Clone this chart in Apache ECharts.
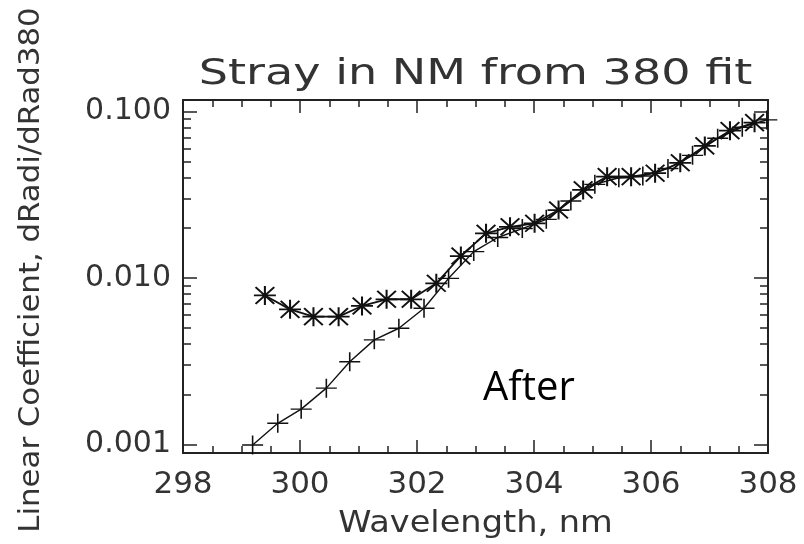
<!DOCTYPE html>
<html>
<head>
<meta charset="utf-8">
<script src="https://cdn.jsdelivr.net/npm/echarts@6/dist/echarts.min.js"></script>
<style>
  html, body { margin: 0; padding: 0; background: #fff; }
  #chart { width: 804px; height: 544px; }
</style>
</head>
<body>
<div id="chart"></div>
<script>
// Stray-light linear coefficient versus wavelength (log scale)
const starWavelength = [299.40, 299.83, 300.23, 300.66, 301.06, 301.48, 301.90, 302.33, 302.75, 303.18,
  303.59, 304.01, 304.42, 304.84, 305.25, 305.66, 306.07, 306.50, 306.92, 307.35, 307.77];
const starCoef = [0.00785, 0.00648, 0.00586, 0.00586, 0.00679, 0.00745, 0.00745, 0.00929, 0.01355, 0.01855,
  0.0203, 0.0213, 0.0256, 0.0338, 0.0406, 0.0406, 0.0426, 0.0492, 0.0621, 0.0767, 0.0857];

const plusWavelength = [299.19, 299.62, 300.02, 300.45, 300.85, 301.27, 301.69, 302.12, 302.54, 302.97,
  303.38, 303.80, 304.21, 304.63, 305.04, 305.45, 305.86, 306.29, 306.71, 307.14, 307.56, 307.98];
const plusCoef = [0.000993, 0.00134, 0.00163, 0.00218, 0.00314, 0.00425, 0.00499, 0.00658, 0.00995, 0.0144,
  0.0175, 0.0198, 0.0225, 0.0290, 0.0365, 0.0400, 0.0410, 0.0455, 0.0545, 0.0690, 0.0805, 0.0890];

const xMin = 298, xMax = 308, xStep = 2;
const yMin = 0.000889, yMax = 0.1172;
const yMajor = [0.001, 0.01, 0.1];
const yMinor = [0.002, 0.003, 0.004, 0.005, 0.006, 0.007, 0.008, 0.009,
  0.02, 0.03, 0.04, 0.05, 0.06, 0.07, 0.08, 0.09];

const titleText = 'Stray in NM from 380 fit';
const xName = 'Wavelength, nm';
const yName = 'Linear Coefficient, dRadi/dRad380';
const noteText = 'After';

const ink = '#222';
const textInk = '#333';
const axisFont = 'DejaVu Sans';

const pairs = (xs, ys) => xs.map((x, i) => [x, ys[i]]);
const lg = v => Math.log10(v);

// asterisk: vertical, horizontal and two diagonal strokes; plus: two strokes
const starPath = 'path://M10 0L10 18M0 9L20 9M1.5 1L18.5 17M18.5 1L1.5 17';
const plusPath = 'path://M10 0L10 18M0 9L20 9';

const chart = echarts.init(document.getElementById('chart'), null, { renderer: 'canvas' });

const frameLine = { show: true, lineStyle: { color: ink, width: 2 } };
const tickStyle = { color: ink, width: 1.5 };
const xAxisBase = {
  type: 'value', min: xMin, max: xMax, interval: xStep,
  axisLine: frameLine,
  axisTick: { show: true, inside: true, length: 13, lineStyle: tickStyle },
  minorTick: { show: true, splitNumber: 4, length: 7, lineStyle: tickStyle },
  splitLine: { show: false }
};

// log axis carries the data, labels and decade ticks; value axes in log10 units add the 2..9 ticks
const yLogAxis = (position, withLabels) => ({
  type: 'log', logBase: 10, min: yMin, max: yMax, position: position,
  axisLine: frameLine,
  axisTick: { show: true, inside: true, length: 14, customValues: yMajor, lineStyle: tickStyle },
  axisLabel: withLabels ? {
    show: true, margin: 12, customValues: yMajor,
    fontFamily: axisFont, fontSize: 30, color: textInk,
    formatter: v => Number(v).toFixed(3)
  } : { show: false },
  splitLine: { show: false }
});
const yMinorAxis = position => ({
  type: 'value', min: lg(yMin), max: lg(yMax), position: position,
  axisLine: { show: false },
  axisTick: { show: true, inside: true, length: 8, customValues: yMinor.map(lg), lineStyle: tickStyle },
  axisLabel: { show: false },
  splitLine: { show: false }
});

chart.setOption({
  animation: false,
  backgroundColor: '#fff',
  grid: { left: 183, top: 100, width: 585, height: 353, show: false },
  xAxis: [
    Object.assign({}, xAxisBase, {
      position: 'bottom',
      axisLabel: { show: true, margin: 16, fontFamily: axisFont, fontSize: 31, color: textInk }
    }),
    Object.assign({}, xAxisBase, { position: 'top', axisLabel: { show: false } })
  ],
  yAxis: [yLogAxis('left', true), yLogAxis('right', false), yMinorAxis('left'), yMinorAxis('right')],
  series: [
    {
      type: 'line', xAxisIndex: 0, yAxisIndex: 0,
      data: pairs(plusWavelength, plusCoef),
      symbol: plusPath, symbolSize: [21, 19], showAllSymbol: true,
      lineStyle: { color: '#111', width: 1.4 },
      itemStyle: { color: '#111', borderColor: '#111', borderWidth: 1.5 },
      emphasis: { disabled: true }
    },
    {
      type: 'line', xAxisIndex: 0, yAxisIndex: 0,
      data: pairs(starWavelength, starCoef),
      symbol: starPath, symbolSize: [22, 19], showAllSymbol: true,
      lineStyle: { color: '#111', width: 1.8 },
      itemStyle: { color: '#111', borderColor: '#111', borderWidth: 1.9 },
      emphasis: { disabled: true }
    }
  ],
  graphic: [
    {
      type: 'text', x: 475.5, y: 75, scaleX: 1.28,
      style: { text: titleText, fontFamily: axisFont, fontSize: 36, fill: textInk, align: 'center', verticalAlign: 'middle' }
    },
    {
      type: 'text', x: 475.5, y: 524, scaleX: 1.12,
      style: { text: xName, fontFamily: axisFont, fontSize: 30, fill: textInk, align: 'center', verticalAlign: 'middle' }
    },
    {
      type: 'text', x: 32, y: 270, rotation: Math.PI / 2, scaleX: 1.1,
      style: { text: yName, fontFamily: axisFont, fontSize: 28, fill: textInk, align: 'center', verticalAlign: 'middle' }
    },
    {
      type: 'text', x: 483, y: 389,
      style: { text: noteText, fontFamily: 'Open Sans', fontSize: 40, fill: '#000', align: 'left', verticalAlign: 'middle' }
    }
  ]
});
</script>
</body>
</html>
